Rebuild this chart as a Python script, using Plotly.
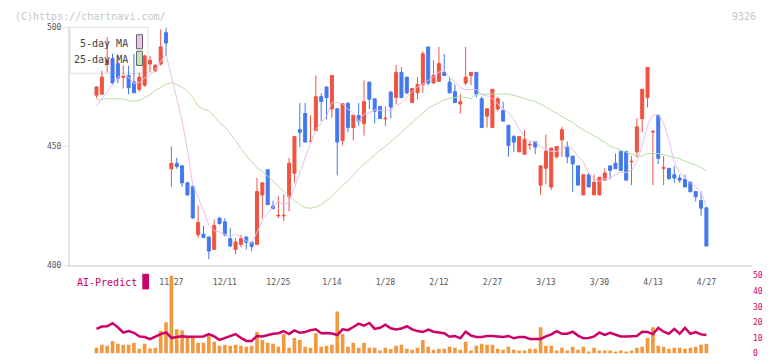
import plotly.graph_objects as go

# ---------------- data ----------------
day_idx = list(range(115))

opens = [471.5, 471.9, 484.4, 486.9, 484.8, 479.0, 479.8, 477.0, 473.9, 475.7,
         484.6, 481.7, 484.6, 497.8, 440.6, 442.9, 441.8, 434.7, 433.1, 412.8,
         413.1, 411.9, 406.7, 419.9, 418.3, 411.2, 406.7, 408.8, 411.9, 409.8,
         408.8, 429.6, 440.2, 424.9, 420.8, 420.8, 428.8, 438.7, 457.0, 463.8,
         452.0, 456.6, 470.9, 475.0, 465.7, 465.8, 452.4, 468.0, 457.9, 463.0,
         459.6, 477.0, 470.0, 466.8, 461.6, 472.9, 470.5, 481.1, 479.1, 468.4,
         472.5, 476.0, 491.8, 476.6, 477.3, 481.1, 477.0, 473.0, 467.8, 476.6,
         479.8, 481.1, 470.0, 462.7, 457.9, 465.7, 465.0, 458.9, 454.1, 447.7,
         446.7, 450.6, 452.0, 433.7, 440.8, 432.9, 445.6, 452.7, 450.0, 445.9,
         441.8, 429.6, 438.1, 429.6, 429.6, 435.8, 441.8, 442.9, 447.9, 447.9,
         443.5, 447.7, 461.6, 470.5, 456.0, 463.1, 440.8, 440.8, 438.1, 436.7,
         436.1, 435.0, 431.0, 427.2, 424.2]
highs = [475.2, 481.8, 495.9, 488.9, 488.6, 483.9, 483.9, 488.9, 481.0, 488.5,
         488.0, 484.5, 499.2, 500.0, 450.0, 445.2, 442.0, 435.1, 433.7, 425.1,
         416.7, 412.0, 419.3, 420.0, 419.9, 415.8, 411.5, 412.8, 412.0, 409.8,
         436.8, 434.8, 440.2, 427.2, 429.2, 429.9, 445.2, 454.1, 468.2, 468.2,
         463.0, 479.8, 472.3, 475.0, 479.8, 465.8, 468.0, 468.8, 463.1, 468.2,
         477.7, 477.0, 470.0, 466.8, 466.8, 472.9, 484.2, 483.2, 479.1, 474.3,
         479.1, 490.0, 491.8, 486.2, 491.8, 488.9, 479.1, 476.0, 471.9, 491.8,
         481.1, 481.1, 470.9, 465.8, 474.0, 470.9, 468.8, 458.9, 454.9, 454.1,
         456.8, 452.2, 452.0, 441.8, 454.9, 449.3, 450.0, 458.2, 452.0, 445.9,
         441.8, 438.1, 438.8, 438.1, 437.0, 440.8, 441.8, 447.0, 447.9, 447.9,
         445.9, 461.8, 474.0, 483.2, 456.8, 463.1, 445.9, 440.8, 441.8, 438.1,
         438.1, 435.0, 431.0, 431.0, 424.2]
lows = [470.2, 471.9, 481.1, 475.7, 476.6, 474.3, 471.9, 472.5, 473.0, 475.0,
        481.0, 481.2, 483.9, 488.0, 433.0, 440.6, 433.0, 429.2, 419.5, 411.5,
        411.7, 402.6, 406.7, 417.0, 412.1, 407.6, 404.6, 407.6, 406.7, 406.0,
        408.8, 419.7, 425.5, 423.8, 419.9, 418.6, 422.7, 434.7, 449.7, 451.8,
        452.0, 456.6, 460.6, 461.3, 462.0, 437.8, 450.4, 455.9, 452.5, 458.6,
        454.5, 465.7, 459.6, 461.7, 458.6, 461.7, 467.8, 470.5, 471.9, 468.4,
        469.8, 472.5, 475.7, 476.6, 477.3, 479.8, 472.5, 468.4, 463.7, 475.7,
        475.7, 470.5, 457.9, 457.9, 457.9, 464.7, 460.6, 445.6, 447.7, 447.7,
        446.7, 448.6, 446.7, 429.6, 434.3, 431.7, 444.9, 445.6, 442.9, 430.9,
        433.7, 429.6, 432.9, 429.6, 429.6, 435.8, 436.1, 440.6, 439.9, 435.8,
        433.7, 445.2, 455.9, 466.4, 433.7, 442.6, 433.7, 435.8, 434.7, 434.7,
        432.9, 430.9, 426.8, 420.6, 408.1]
closes = [475.0, 479.1, 486.2, 476.6, 478.7, 479.3, 474.6, 472.5, 479.1, 488.0,
          486.2, 484.1, 491.8, 493.4, 442.9, 441.5, 434.7, 429.6, 419.9, 418.0,
          411.7, 406.0, 416.7, 417.6, 412.8, 408.1, 409.8, 411.2, 409.7, 407.9,
          431.0, 434.7, 425.5, 423.8, 421.0, 421.0, 442.9, 454.1, 455.9, 451.8,
          452.1, 470.9, 468.9, 470.5, 479.8, 451.8, 468.0, 457.9, 463.1, 460.6,
          468.8, 469.8, 464.8, 461.7, 461.8, 466.5, 481.1, 470.5, 472.5, 474.3,
          476.0, 488.9, 476.6, 479.8, 484.8, 479.8, 472.5, 468.4, 468.8, 479.1,
          481.1, 471.9, 457.9, 465.8, 474.0, 470.0, 460.6, 450.4, 451.8, 454.1,
          452.9, 450.8, 449.7, 441.8, 448.0, 449.3, 450.0, 457.0, 445.6, 442.6,
          433.7, 438.1, 432.9, 434.9, 437.0, 438.8, 439.9, 440.6, 439.9, 435.8,
          443.7, 458.2, 474.0, 483.2, 456.3, 445.0, 441.0, 436.5, 436.7, 435.8,
          432.9, 430.9, 428.8, 424.0, 408.1]

ma5 = [466.8, 470.0, 473.0, 476.0, 479.1, 480.0, 479.1, 476.3, 476.8, 478.7,
       480.1, 482.0, 485.8, 488.7, 479.7, 470.7, 460.9, 448.4, 433.7, 428.7,
       422.8, 417.0, 414.5, 414.0, 413.0, 412.2, 413.0, 411.9, 410.3, 409.3,
       413.9, 418.9, 421.8, 424.6, 427.2, 425.2, 426.8, 432.6, 439.0, 445.1,
       451.4, 457.0, 459.9, 462.8, 468.4, 468.4, 467.8, 465.6, 464.1, 460.3,
       463.7, 464.0, 465.4, 465.1, 465.4, 464.9, 467.2, 468.3, 470.5, 473.0,
       474.9, 476.4, 477.7, 479.1, 481.2, 482.0, 478.7, 477.1, 474.9, 473.7,
       474.0, 473.9, 471.8, 471.2, 470.1, 467.9, 465.7, 464.2, 461.4, 457.4,
       454.0, 452.0, 451.9, 449.9, 448.6, 447.9, 447.8, 449.2, 450.0, 448.9,
       445.8, 443.4, 438.6, 436.4, 435.3, 436.3, 436.7, 438.2, 439.2, 439.0,
       440.0, 443.6, 450.3, 459.0, 463.1, 463.3, 459.9, 452.4, 443.1, 439.0,
       436.6, 434.6, 433.0, 430.5, 424.9]

ma25 = [469.5, 469.8, 470.0, 470.0, 470.0, 470.0, 469.2, 469.0, 469.3, 470.5,
        471.7, 473.5, 475.0, 476.2, 476.8, 476.0, 474.8, 473.3, 470.5, 467.0,
        465.5, 465.0, 462.5, 460.0, 458.2, 455.5, 452.5, 449.0, 446.0, 443.5,
        441.0, 439.5, 437.5, 435.5, 433.0, 431.0, 429.0, 427.2, 425.5, 424.2,
        424.0, 424.5, 425.5, 427.2, 429.0, 431.5, 433.3, 435.5, 437.8, 440.5,
        442.5, 444.5, 446.5, 448.4, 450.0, 452.0, 453.8, 456.0, 458.2, 460.0,
        462.0, 464.0, 466.0, 467.2, 468.5, 469.5, 470.2, 470.6, 470.9, 470.5,
        470.0, 472.0, 472.0, 472.0, 472.0, 472.0, 472.0, 472.0, 471.5, 470.9,
        470.2, 469.5, 468.8, 467.8, 466.5, 465.2, 463.8, 462.5, 461.4, 460.0,
        458.3, 457.0, 455.8, 454.5, 453.2, 451.8, 450.0, 449.2, 448.3, 447.3,
        446.5, 446.0, 445.9, 447.0, 447.0, 447.0, 446.5, 445.9, 445.4, 444.8,
        443.8, 443.0, 442.2, 441.0, 439.9]

volume = [3.75, 5.6, 5.0, 8.1, 6.25, 5.6, 5.6, 6.9, 3.1, 6.25,
          3.3, 3.75, 14.4, 20.0, 50.0, 15.6, 15.0, 11.25, 10.6, 6.9,
          6.9, 11.9, 7.5, 5.0, 5.6, 5.0, 5.6, 5.0, 4.4, 5.0,
          13.75, 8.75, 6.9, 6.25, 4.4, 12.5, 3.75, 10.0, 8.75, 4.4,
          3.75, 13.1, 4.4, 5.0, 5.6, 26.9, 12.5, 4.4, 6.9, 3.75,
          6.9, 3.75, 3.75, 1.9, 3.75, 2.9, 5.0, 5.6, 3.1, 2.5,
          3.75, 8.75, 4.4, 2.5, 3.1, 3.1, 4.4, 3.75, 2.5, 7.5,
          1.9, 5.0, 6.25, 5.6, 5.6, 3.1, 2.5, 4.4, 2.5, 1.9,
          1.9, 3.1, 3.1, 16.9, 5.0, 5.0, 1.9, 3.75, 1.9, 4.4,
          2.5, 4.4, 1.25, 3.75, 1.9, 1.9, 1.9, 1.25, 1.9, 1.25,
          1.9, 3.75, 4.4, 10.0, 16.9, 5.0, 4.4, 3.1, 3.75, 3.75,
          3.1, 3.75, 4.4, 5.6, 6.25]

ai_predict = [15.8, 17.3, 17.5, 19.5, 16.8, 13.5, 14.4, 13.3, 11.0, 10.6,
              9.2, 10.8, 12.5, 13.5, 10.0, 10.6, 11.1, 10.8, 11.0, 11.0,
              11.0, 12.5, 11.0, 8.8, 10.0, 11.0, 12.5, 10.0, 8.1, 8.1,
              11.3, 11.0, 12.0, 12.7, 13.0, 14.4, 12.5, 14.8, 13.3, 13.8,
              15.0, 15.6, 13.0, 13.2, 12.8, 11.9, 15.5, 15.0, 17.0, 19.2,
              17.9, 19.6, 15.8, 16.5, 18.5, 16.2, 15.5, 16.0, 17.5, 15.5,
              14.4, 13.8, 15.4, 14.0, 13.5, 13.0, 10.8, 11.3, 9.8, 14.0,
              11.5, 10.6, 10.6, 11.3, 11.3, 11.0, 10.6, 11.3, 9.8, 10.6,
              10.6, 9.4, 9.2, 9.4, 11.0, 12.3, 14.4, 12.7, 12.7, 14.0,
              11.5, 9.8, 10.0, 11.0, 13.5, 12.0, 13.3, 11.9, 11.0, 11.0,
              11.3, 11.3, 14.0, 13.8, 12.5, 16.5, 14.0, 12.7, 15.8, 12.7,
              16.5, 12.7, 13.8, 12.3, 11.9]

label_idx = [14, 24, 34, 44, 54, 64, 74, 84, 94, 104, 114]
date_labels = ["11/27", "12/11", "12/25", "1/14", "1/28", "2/12",
               "2/27", "3/13", "3/30", "4/13", "4/27"]
price_ticks = [400, 450, 500]
sub_ticks = [0, 10, 20, 30, 40, 50]

# ---------------- styling ----------------
W, H = 772, 361
FONT = "DejaVu Sans Mono"
RED = "#f05240"
BLUE = "#4279ef"
ORANGE = "#f2983e"
MAGENTA = "#cc0066"
PINK = "#ecbcec"
GREEN = "#b8dca6"
AXIS = "#e2e2e2"


def px(x):
    return x / W


def py(y):
    return 1 - y / H


XD = [px(70), px(752)]
XR = [-4.95, 122.52]

fig = go.Figure()
fig.add_trace(go.Scatter(x=day_idx, y=ma25, mode="lines",
                         line=dict(color=GREEN, width=1), hoverinfo="skip",
                         xaxis="x", yaxis="y"))
fig.add_trace(go.Scatter(x=day_idx, y=ma5, mode="lines",
                         line=dict(color=PINK, width=1), hoverinfo="skip",
                         xaxis="x", yaxis="y"))
fig.add_trace(go.Candlestick(
    x=day_idx, open=opens, high=highs, low=lows, close=closes,
    increasing=dict(line=dict(color=RED, width=1), fillcolor=RED),
    decreasing=dict(line=dict(color=BLUE, width=1), fillcolor=BLUE),
    whiskerwidth=0, xaxis="x", yaxis="y"))
fig.add_trace(go.Bar(x=day_idx, y=volume, width=0.68,
                     marker=dict(color=ORANGE, line=dict(width=0)),
                     xaxis="x2", yaxis="y2"))
fig.add_trace(go.Scatter(x=day_idx, y=ai_predict, mode="lines",
                         line=dict(color=MAGENTA, width=2.5),
                         xaxis="x2", yaxis="y2"))

fig.update_layout(
    width=W, height=H,
    margin=dict(l=0, r=0, t=0, b=0),
    paper_bgcolor="white", plot_bgcolor="white",
    showlegend=False, boxgap=0.2, bargap=0.3,
    xaxis=dict(domain=XD, range=XR, anchor="y", showgrid=False, zeroline=False,
               showline=True, linecolor=AXIS, linewidth=2,
               tickvals=label_idx, ticktext=date_labels,
               ticks="outside", ticklen=8, tickcolor="rgba(0,0,0,0)",
               tickfont=dict(family=FONT, size=8, color="#555555"),
               rangeslider=dict(visible=False)),
    yaxis=dict(domain=[py(268), py(24)], range=[400, 500], anchor="x",
               tickvals=price_ticks, ticks="outside", ticklen=5,
               tickcolor=AXIS, showline=True, linecolor=AXIS, linewidth=2,
               showgrid=False, zeroline=False,
               tickfont=dict(family=FONT, size=8, color="#555555")),
    xaxis2=dict(domain=XD, range=XR, anchor="y2", visible=False),
    yaxis2=dict(domain=[py(358.5), py(278.5)], range=[0, 50], anchor="x2",
                side="right", tickvals=sub_ticks, ticks="", showline=False,
                showgrid=False, zeroline=False,
                tickfont=dict(family=FONT, size=8, color=MAGENTA)),
    xaxis3=dict(overlaying="x", anchor="y", range=[0, 11],
                tickvals=list(range(1, 12)), ticks="outside", ticklen=5,
                tickcolor=AXIS, tickwidth=1.5, showticklabels=False,
                showgrid=False, zeroline=False, showline=False),
)

shapes = [
    dict(type="rect", xref="paper", yref="paper", x0=px(70), x1=px(148),
         y0=py(71), y1=py(24), line=dict(color="#dddddd", width=1),
         fillcolor="white", layer="below"),
    dict(type="rect", xref="paper", yref="paper", x0=px(136.5), x1=px(142.5),
         y0=py(46), y1=py(31.5), line=dict(color="#666666", width=1),
         fillcolor="#eec0ee"),
    dict(type="rect", xref="paper", yref="paper", x0=px(136.5), x1=px(142.5),
         y0=py(63), y1=py(48.5), line=dict(color="#666666", width=1),
         fillcolor="#c4e2b4"),
    dict(type="rect", xref="paper", yref="paper", x0=px(142.3), x1=px(149),
         y0=py(292.7), y1=py(276.7), line=dict(width=0), fillcolor=MAGENTA),
]
fig.update_layout(shapes=shapes)

annotations = [
    dict(text="5-day MA", x=px(130), y=py(40.5), xanchor="right", yanchor="middle",
         font=dict(family=FONT, size=10, color="#444444")),
    dict(text="25-day MA", x=px(130), y=py(57), xanchor="right", yanchor="middle",
         font=dict(family=FONT, size=10, color="#444444")),
    dict(text="(C)https://chartnavi.com/", x=px(13), y=py(12.5), xanchor="left",
         yanchor="middle", font=dict(family=FONT, size=10, color="#c4c4c4")),
    dict(text="9326", x=px(758), y=py(12.5), xanchor="right", yanchor="middle",
         font=dict(family=FONT, size=10, color="#c4c4c4")),
    dict(text="AI-Predict", x=px(75), y=py(286), xanchor="left", yanchor="middle",
         font=dict(family=FONT, size=10, color=MAGENTA)),
]
for a in annotations:
    a.update(xref="paper", yref="paper", showarrow=False)
fig.update_layout(annotations=annotations)

fig.write_html("out.html",
               config={"displayModeBar": False},
               post_script="document.body.style.margin='0';"
                           "document.body.style.padding='0';")
